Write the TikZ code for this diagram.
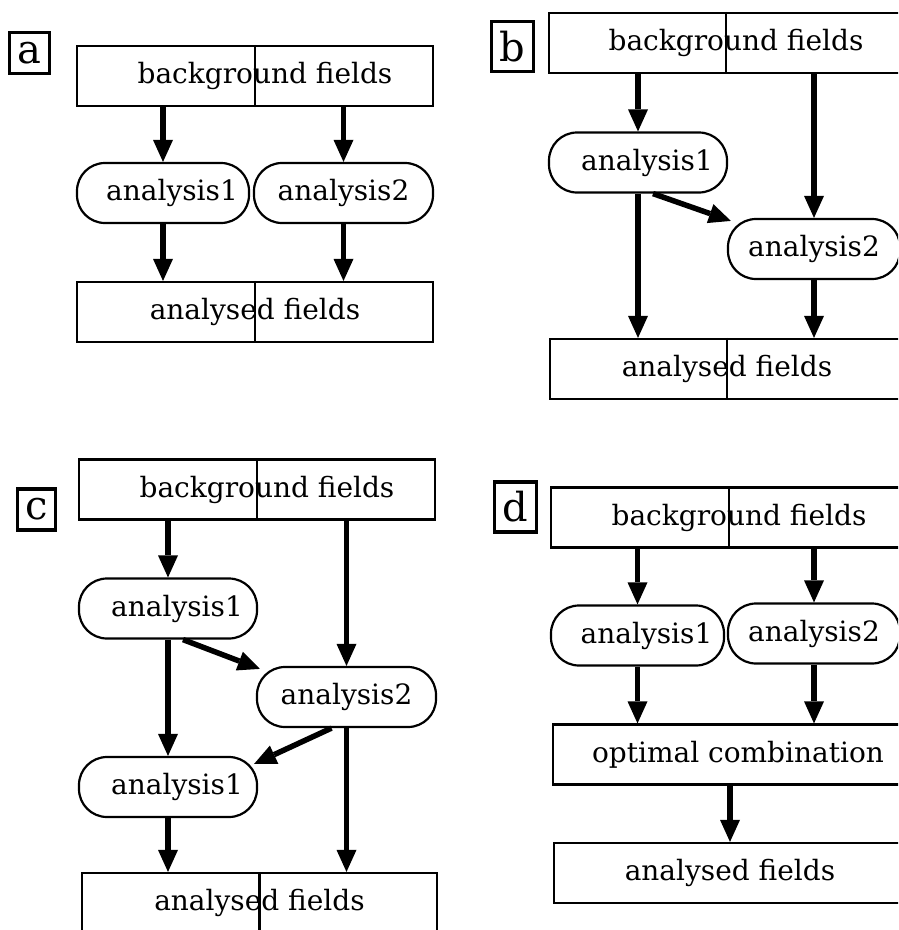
\documentclass[tikz,border=0pt]{standalone}
\usepackage{fontspec}
\setmainfont{DejaVu Serif}
\usetikzlibrary{arrows.meta}

\begin{document}
\begin{tikzpicture}[x=1pt,y=-1pt]
    \tikzstyle{box}=[draw,line width=2.2pt,minimum height=60pt,inner sep=0pt,font=\fontsize{28}{34}\selectfont]
    \tikzstyle{anl}=[box,rounded corners=28pt]
    \tikzstyle{tag}=[draw,line width=3.5pt,inner xsep=8pt,inner ysep=9.5pt,font=\fontsize{40}{48}\selectfont]
    \tikzstyle{edge}=[line width=5.5pt,-{Triangle[length=22pt,width=20pt,line width=0pt]}]

    \useasboundingbox (0,0) rectangle (898,930);
    \clip (0,0) rectangle (898,930);

    % a: two independent analyses
    \node[tag] (labA) at (29.5,53) {a};
    \node[box,minimum width=356pt] (bgA) at (255,76) {\hspace*{20pt}background fields};
    \node[anl,minimum width=172pt] (anA1) at (163,193) {\hspace*{18pt}analysis1};
    \node[anl,minimum width=179pt] (anA2) at (343.5,193) {analysis2};
    \node[box,minimum width=356pt] (outA) at (255,312) {analysed fields};

    \draw[edge] (bgA.south -| anA1.north) to (anA1.north);
    \draw[edge] (bgA.south -| anA2.north) to (anA2.north);
    \draw[edge] (anA1.south) to (outA.north -| anA1.south);
    \draw[edge] (anA2.south) to (outA.north -| anA2.south);

    % b: analysis1 feeds analysis2
    \node[tag] (labB) at (512.5,46.5) {b};
    \node[box,minimum width=354pt] (bgB) at (726,43) {\hspace*{20pt}background fields};
    \node[anl,minimum width=178pt] (anB1) at (638,162.5) {\hspace*{18pt}analysis1};
    \node[anl,minimum width=172pt] (anB2) at (814,249) {analysis2};
    \node[box,minimum width=354pt] (outB) at (727,369) {analysed fields};

    \draw[edge] (bgB.south -| anB1.north) to (anB1.north);
    \draw[edge] (bgB.south -| anB2.north) to (anB2.north);
    \draw[edge] ([xshift=15pt]anB1.south) to ([shift={(4pt,-3pt)}]anB2.north west);
    \draw[edge] (anB1.south) to (outB.north -| anB1.south);
    \draw[edge] (anB2.south) to (outB.north -| anB2.south);

    % c: analysis1 repeated after analysis2
    \node[tag] (labC) at (36.5,509.5) {c};
    \node[box,minimum width=356pt] (bgC) at (257,489.5) {\hspace*{20pt}background fields};
    \node[anl,minimum width=178pt] (anC1) at (168,608.5) {\hspace*{18pt}analysis1};
    \node[anl,minimum width=179pt] (anC2) at (346.5,697) {analysis2};
    \node[anl,minimum width=178pt] (anC3) at (168,787) {\hspace*{18pt}analysis1};
    \node[box,minimum width=355pt] (outC) at (259.5,903) {analysed fields};

    \draw[edge] (bgC.south -| anC1.north) to (anC1.north);
    \draw[edge] (bgC.south -| anC2.north) to (anC2.north);
    \draw[edge] ([xshift=15pt]anC1.south) to ([shift={(4pt,-3pt)}]anC2.north west);
    \draw[edge] (anC1.south) to (anC3.north);
    \draw[edge] ([xshift=-15pt]anC2.south) to ([shift={(-4pt,-8pt)}]anC3.north east);
    \draw[edge] (anC3.south) to (outC.north -| anC3.south);
    \draw[edge] (anC2.south) to (outC.north -| anC2.south);

    % d: optimal combination
    \node[tag] (labD) at (515.5,507) {d};
    \node[box,minimum width=356pt] (bgD) at (729,517.5) {\hspace*{20pt}background fields};
    \node[anl,minimum width=173pt] (anD1) at (637.5,635.5) {\hspace*{18pt}analysis1};
    \node[anl,minimum width=172pt] (anD2) at (814,633.5) {analysis2};
    \node[box,minimum width=370pt] (combD) at (738,754.5) {optimal combination};
    \node[box,minimum width=352pt] (outD) at (730,873) {analysed fields};

    \draw[edge] (bgD.south -| anD1.north) to (anD1.north);
    \draw[edge] (bgD.south -| anD2.north) to (anD2.north);
    \draw[edge] (anD1.south) to (combD.north -| anD1.south);
    \draw[edge] (anD2.south) to (combD.north -| anD2.south);
    \draw[edge] (combD.south -| outD.north) to (outD.north);

    % split lines of the pasted boxes
    \foreach \n in {bgA,outA,bgB,outB,bgC,outC,bgD}
        \draw[line width=2.2pt] (\n.north) -- (\n.south);
\end{tikzpicture}
\end{document}
